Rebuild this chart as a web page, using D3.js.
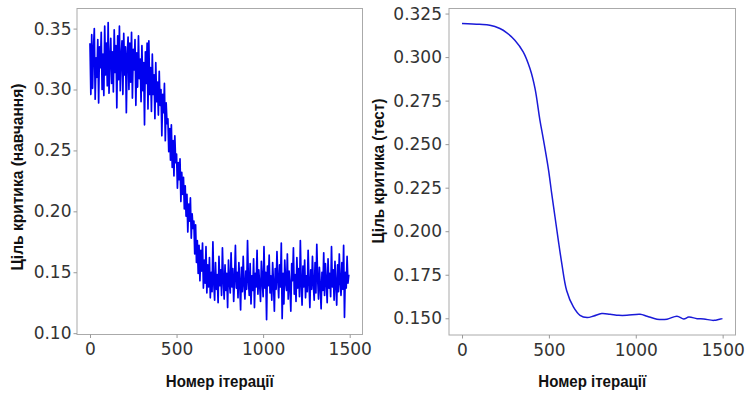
<!DOCTYPE html>
<html>
<head>
<meta charset="utf-8">
<script src="https://cdn.jsdelivr.net/npm/d3@7"></script>
<style>
  body { margin: 0; background: #fff; }
  svg { display: block; }
</style>
</head>
<body>
<div id="chart"></div>
<script>
// ціль критика на навчанні, кожна 5-та ітерація (0..1495)
const TRAIN_STEP = 5;
const trainLoss = [
  0.338, 0.296, 0.345, 0.301, 0.333, 0.350, 0.292, 0.326, 0.310, 0.341,
  0.289, 0.335, 0.318, 0.347, 0.300, 0.329, 0.295, 0.352, 0.312, 0.338,
  0.303, 0.355, 0.297, 0.325, 0.342, 0.305, 0.331, 0.298, 0.349, 0.314,
  0.336, 0.285, 0.344, 0.308, 0.352, 0.299, 0.327, 0.340, 0.296, 0.346,
  0.312, 0.335, 0.281, 0.328, 0.343, 0.300, 0.338, 0.306, 0.347, 0.293,
  0.333, 0.316, 0.341, 0.287, 0.330, 0.302, 0.344, 0.309, 0.325, 0.290,
  0.336, 0.299, 0.322, 0.271, 0.331, 0.305, 0.338, 0.284, 0.340, 0.296,
  0.318, 0.282, 0.329, 0.296, 0.312, 0.276, 0.322, 0.290, 0.306, 0.279,
  0.315, 0.287, 0.300, 0.262, 0.296, 0.281, 0.305, 0.258, 0.289, 0.272,
  0.276, 0.249, 0.268, 0.242, 0.271, 0.236, 0.258, 0.229, 0.262, 0.240,
  0.247, 0.219, 0.240, 0.226, 0.243, 0.208, 0.232, 0.214, 0.228, 0.202,
  0.221, 0.196, 0.214, 0.183, 0.206, 0.192, 0.211, 0.178, 0.198, 0.186,
  0.192,
  0.165, 0.189, 0.158, 0.176, 0.149, 0.172, 0.143, 0.168, 0.151, 0.174,
  0.137, 0.160, 0.141, 0.171, 0.133, 0.156,
  0.138, 0.162, 0.129, 0.150, 0.134, 0.175, 0.141, 0.127, 0.158, 0.136,
  0.148, 0.125, 0.163, 0.139, 0.152, 0.131, 0.170, 0.144, 0.128, 0.156,
  0.135, 0.149, 0.121, 0.160, 0.142, 0.133, 0.166, 0.138, 0.153, 0.126,
  0.145, 0.172, 0.137, 0.150, 0.129, 0.158, 0.141, 0.119, 0.154, 0.134,
  0.163, 0.140, 0.128, 0.151, 0.136, 0.176, 0.143, 0.131, 0.157, 0.124,
  0.147, 0.135, 0.161, 0.121, 0.149, 0.138, 0.168, 0.132, 0.152, 0.140,
  0.126, 0.159, 0.143, 0.130, 0.171, 0.137, 0.150, 0.111, 0.155, 0.139,
  0.164, 0.133, 0.147, 0.127, 0.158, 0.141, 0.118, 0.153, 0.136, 0.167,
  0.144, 0.129, 0.156, 0.138, 0.174, 0.112, 0.149, 0.124, 0.160, 0.142,
  0.135, 0.165, 0.128, 0.151, 0.139, 0.118, 0.157, 0.143, 0.170, 0.132,
  0.148, 0.126, 0.162, 0.137, 0.153, 0.130, 0.176, 0.141, 0.123, 0.155,
  0.138, 0.160, 0.129, 0.147, 0.134, 0.168, 0.142, 0.121, 0.152, 0.136,
  0.163, 0.140, 0.127, 0.158, 0.133, 0.173, 0.145, 0.128, 0.154, 0.139,
  0.120, 0.150, 0.135, 0.166, 0.131, 0.157, 0.143, 0.125, 0.161, 0.137,
  0.149, 0.130, 0.171, 0.138, 0.152, 0.127, 0.159, 0.140, 0.123, 0.156,
  0.134, 0.165, 0.142, 0.131, 0.158, 0.136, 0.172, 0.113, 0.150, 0.137,
  0.163, 0.141, 0.148
];

// ціль критика на тесті (згладжена крива)
const testIter = [0, 100, 160, 218, 256, 304, 352, 391, 420, 448, 469, 498, 516, 535, 554, 574, 602,
  641, 679, 720, 758, 804, 852, 902, 949, 1025, 1065, 1122, 1180, 1237, 1276, 1305, 1353, 1392, 1449, 1487, 1499];
const testLoss = [0.3193, 0.3188, 0.3183, 0.3164, 0.3141, 0.3097, 0.3030, 0.2934, 0.2820, 0.2640, 0.2523,
  0.2351, 0.2217, 0.2083, 0.1949, 0.1816, 0.1660, 0.1565, 0.1517, 0.1504, 0.1513, 0.1527, 0.1523, 0.1517,
  0.1517, 0.1523, 0.1512, 0.1495, 0.1495, 0.1512, 0.1496, 0.1507, 0.1498, 0.1496, 0.1488, 0.1496, 0.1498];

const xTicks = [0, 500, 1000, 1500];
const trainYTicks = [0.10, 0.15, 0.20, 0.25, 0.30, 0.35];
const testYTicks = [0.150, 0.175, 0.200, 0.225, 0.250, 0.275, 0.300, 0.325];

const xLabel = 'Номер ітерації';
const trainYLabel = 'Ціль критика (навчання)';
const testYLabel = 'Ціль критика (тест)';

const W = 745, H = 398;
const tickFont = '"DejaVu Sans", sans-serif';
const labelFont = '"Liberation Sans Narrow", "Arial Narrow", "Liberation Sans", Arial, sans-serif';

const svg = d3.select('#chart')
  .append('svg')
  .attr('width', W)
  .attr('height', H)
  .attr('viewBox', `0 0 ${W} ${H}`);

function drawPanel(p) {
  const x = d3.scaleLinear().domain([-75, 1574]).range([p.left, p.right]);
  const y = d3.scaleLinear().domain(p.yDomain).range([p.bottom, p.top]);

  const g = svg.append('g');

  // лінія
  const line = d3.line()
    .x(d => x(d[0]))
    .y(d => y(d[1]))
    .curve(p.curve || d3.curveLinear);

  g.append('path')
    .datum(p.data)
    .attr('fill', 'none')
    .attr('stroke', p.color)
    .attr('stroke-width', p.lineWidth)
    .attr('stroke-linejoin', 'round')
    .attr('d', line);

  // рамка
  g.append('rect')
    .attr('x', p.left)
    .attr('y', p.top)
    .attr('width', p.right - p.left)
    .attr('height', p.bottom - p.top)
    .attr('fill', 'none')
    .attr('stroke', '#aaa')
    .attr('stroke-width', 1);

  // осі
  const xAxis = g.append('g')
    .attr('transform', `translate(0,${p.bottom})`)
    .call(d3.axisBottom(x).tickValues(xTicks).tickSize(3.5).tickPadding(5).tickFormat(d3.format('d')));
  const yAxis = g.append('g')
    .attr('transform', `translate(${p.left},0)`)
    .call(d3.axisLeft(y).tickValues(p.yTicks).tickSize(3.5).tickPadding(p.yPad).tickFormat(d3.format(p.yFormat)));

  [xAxis, yAxis].forEach(a => {
    a.select('.domain').remove();
    a.selectAll('.tick line').attr('stroke', '#999');
    a.selectAll('.tick text')
      .attr('fill', '#333')
      .style('font-family', tickFont)
      .style('font-size', '17px');
  });

  // підписи осей
  g.append('text')
    .attr('x', (p.left + p.right) / 2)
    .attr('y', 387)
    .attr('text-anchor', 'middle')
    .attr('textLength', 108)
    .attr('lengthAdjust', 'spacingAndGlyphs')
    .style('font-family', labelFont)
    .style('font-weight', 'bold')
    .style('font-size', '16px')
    .attr('fill', '#111')
    .text(xLabel);

  g.append('text')
    .attr('transform', `translate(${p.yLabelX},${p.yLabelY}) rotate(-90)`)
    .attr('text-anchor', 'middle')
    .attr('dy', '0.35em')
    .attr('textLength', p.yLabelLen)
    .attr('lengthAdjust', 'spacingAndGlyphs')
    .style('font-family', labelFont)
    .style('font-weight', 'bold')
    .style('font-size', '16px')
    .attr('fill', '#111')
    .text(p.yLabel);
}

drawPanel({
  left: 77, right: 362.5, top: 8.5, bottom: 334.5,
  yDomain: [0.0989, 0.3665],
  yTicks: trainYTicks, yFormat: '.2f', yPad: 2,
  data: trainLoss.map((v, i) => [i * TRAIN_STEP, v]),
  color: '#0000f0',
  lineWidth: 1.7,
  yLabel: trainYLabel, yLabelX: 17, yLabelY: 177, yLabelLen: 187
});

drawPanel({
  left: 449, right: 735.5, top: 8.5, bottom: 335,
  yDomain: [0.1404, 0.3279],
  yTicks: testYTicks, yFormat: '.3f', yPad: 3.5,
  data: testIter.map((t, i) => [t, testLoss[i]]),
  curve: d3.curveCatmullRom,
  color: '#1a1ad8',
  lineWidth: 1.5,
  yLabel: testYLabel, yLabelX: 378, yLabelY: 171, yLabelLen: 145
});
</script>
</body>
</html>
